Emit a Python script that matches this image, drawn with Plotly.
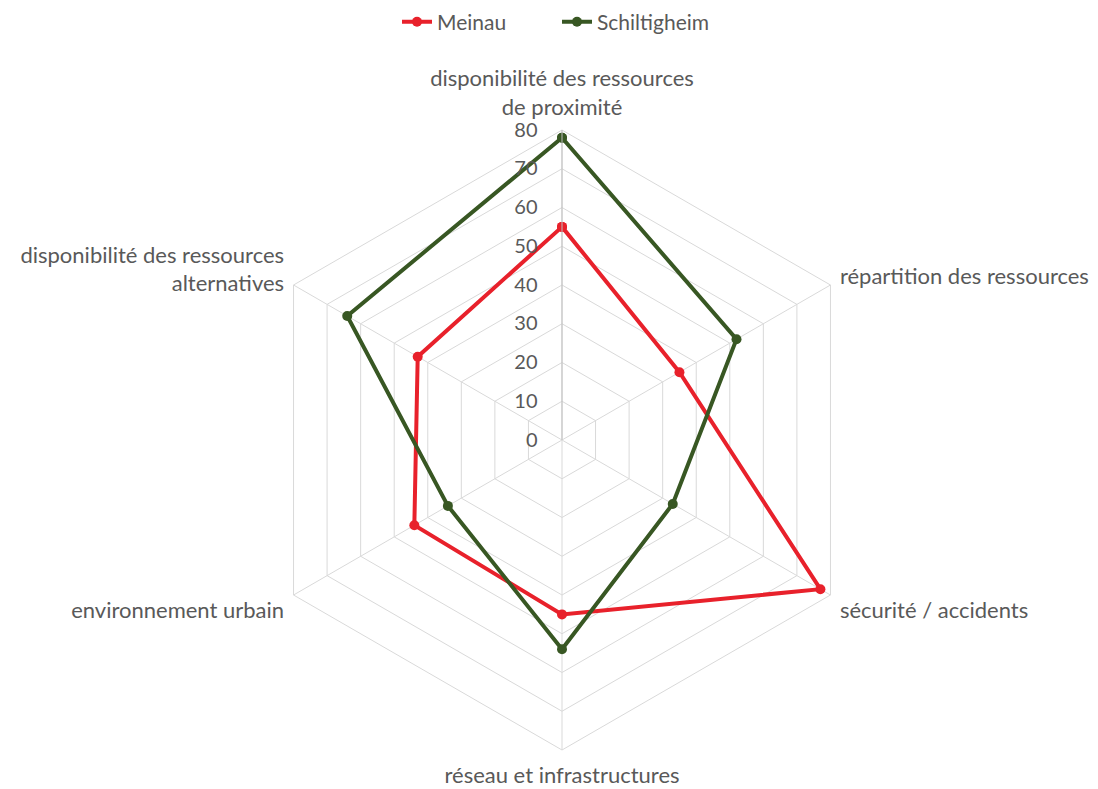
import plotly.graph_objects as go

categories = [
    "disponibilité des ressources<br>de proximité",
    "répartition des ressources",
    "sécurité / accidents",
    "réseau et infrastructures",
    "environnement urbain",
    "disponibilité des ressources<br>alternatives",
]
meinau = [55, 35, 77, 45, 44, 43]
schiltigheim = [78, 52, 33, 54, 34, 64]
series_names = ["Meinau", "Schiltigheim"]
radial_ticks = [0, 10, 20, 30, 40, 50, 60, 70, 80]

RED = "#E8212B"
GREEN = "#385723"
TXT = "#595959"
FONT = "Lato"

fig = go.Figure()
for name, vals, col in [(series_names[0], meinau, RED), (series_names[1], schiltigheim, GREEN)]:
    fig.add_trace(go.Scatterpolar(
        r=vals + vals[:1],
        theta=categories + categories[:1],
        mode="lines+markers",
        name=name,
        line=dict(color=col, width=4),
        marker=dict(color=col, size=10),
    ))

W, H = 1098, 789
cx, cy, R = 554, 432, 310
fig.update_layout(
    width=W, height=H,
    margin=dict(l=0, r=0, t=0, b=0, autoexpand=False),
    paper_bgcolor="white",
    plot_bgcolor="white",
    font=dict(family=FONT, size=22, color=TXT),
    legend=dict(orientation="h", x=0.5, xanchor="center", y=1.008, yanchor="top",
                entrywidth=115, entrywidthmode="pixels",
                font=dict(family=FONT, size=21, color=TXT)),
    polar=dict(
        domain=dict(x=[(cx - R) / W, (cx + R) / W], y=[(H - cy - R) / H, (H - cy + R) / H]),
        bgcolor="white",
        gridshape="linear",
        angularaxis=dict(
            rotation=90, direction="clockwise",
            showline=True, linecolor="#D9D9D9", linewidth=1,
            gridcolor="#D9D9D9", gridwidth=1,
            ticks="outside", ticklen=6, tickcolor="rgba(0,0,0,0)",
            tickfont=dict(family=FONT, size=22, color=TXT),
        ),
        radialaxis=dict(
            range=[0, 80], tickvals=radial_ticks, angle=90,
            side="counterclockwise", tickangle=90,
            showline=True, linecolor="#BFBFBF", linewidth=1,
            gridcolor="#D9D9D9", gridwidth=1,
            ticks="outside", ticklen=17, tickcolor="rgba(0,0,0,0)",
            tickfont=dict(family=FONT, size=20, color=TXT),
        ),
    ),
)

fig.write_html("out.html")
